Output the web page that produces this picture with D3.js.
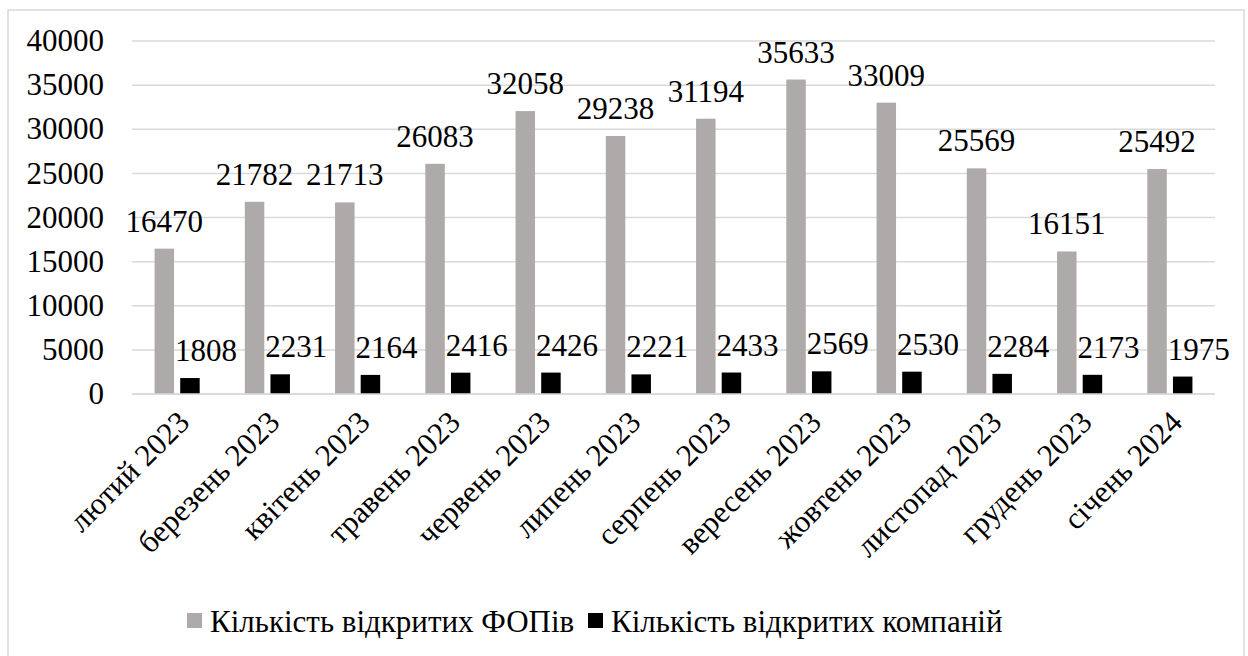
<!DOCTYPE html>
<html>
<head>
<meta charset="utf-8">
<script src="https://cdn.jsdelivr.net/npm/d3@7"></script>
<style>
    body { margin: 0; background: #fff; }
</style>
</head>
<body>
<div id="vis"></div>
<script>
// Months on the x axis
var months = ['лютий 2023', 'березень 2023', 'квітень 2023', 'травень 2023', 'червень 2023', 'липень 2023',
    'серпень 2023', 'вересень 2023', 'жовтень 2023', 'листопад 2023', 'грудень 2023', 'січень 2024'];

// Series names
var seriesNames = ['Кількість відкритих ФОПів', 'Кількість відкритих компаній'];

// Values per series
var fopValues = [16470, 21782, 21713, 26083, 32058, 29238, 31194, 35633, 33009, 25569, 16151, 25492];
var companyValues = [1808, 2231, 2164, 2416, 2426, 2221, 2433, 2569, 2530, 2284, 2173, 1975];

// Y tick values
var yTicks = [0, 5000, 10000, 15000, 20000, 25000, 30000, 35000, 40000];

(function () {
    var W = 1248;
    var H = 656;
    var margin = { left: 132, right: 33, top: 41, bottom: 262 };
    var drawWidth = W - margin.left - margin.right;
    var drawHeight = H - margin.top - margin.bottom;

    var colors = ['#aeaaaa', '#000000'];
    var fam = '"Times New Roman", "Liberation Serif", Tinos, serif';
    var size = '31px';

    var svg = d3.select('#vis')
        .append('svg')
        .attr('width', W)
        .attr('height', H)
        .style('font-family', fam);

    // chart border
    svg.append('rect')
        .attr('x', 8)
        .attr('y', 10)
        .attr('width', 1236)
        .attr('height', 660)
        .attr('fill', '#fff')
        .attr('stroke', '#d9d9d9')
        .attr('stroke-width', 1.5);

    var g = svg.append('g')
        .attr('transform', 'translate(' + margin.left + ',' + margin.top + ')');

    var xScale = d3.scaleBand()
        .domain(months)
        .range([0, drawWidth]);

    var xInner = d3.scaleBand()
        .domain(seriesNames)
        .range([xScale.bandwidth() * 0.25, xScale.bandwidth() * 0.75])
        .paddingInner(0.24);

    var yScale = d3.scaleLinear()
        .domain([0, 40000])
        .range([drawHeight, 0]);

    // gridlines
    g.selectAll('.grid')
        .data(yTicks)
        .enter().append('line')
        .attr('class', 'grid')
        .attr('x1', 0)
        .attr('x2', drawWidth)
        .attr('y1', function (d) { return yScale(d); })
        .attr('y2', function (d) { return yScale(d); })
        .attr('stroke', '#d9d9d9')
        .attr('stroke-width', 1.5);

    // y tick labels
    g.selectAll('.ytick')
        .data(yTicks)
        .enter().append('text')
        .attr('class', 'ytick')
        .attr('x', -28)
        .attr('y', function (d) { return yScale(d); })
        .attr('dy', '0.33em')
        .attr('text-anchor', 'end')
        .style('font-family', fam)
        .style('font-size', size)
        .text(function (d) { return d; });

    // x tick labels, rotated
    var xLabels = g.selectAll('.xtick')
        .data(months)
        .enter().append('g')
        .attr('class', 'xtick')
        .attr('transform', function (d) {
            return 'translate(' + (xScale(d) + xScale.bandwidth() / 2 + 14) + ',' + (drawHeight + 30) + ') rotate(-45)';
        });

    xLabels.append('text')
        .attr('text-anchor', 'end')
        .style('font-family', fam)
        .style('font-size', size)
        .text(function (d) { return d; });

    // bars + data labels
    [fopValues, companyValues].forEach(function (vals, s) {
        var rows = vals.map(function (v, i) { return { month: months[i], value: v }; });

        g.selectAll('.bar-' + s)
            .data(rows)
            .enter().append('rect')
            .attr('class', 'bar-' + s)
            .attr('x', function (d) { return xScale(d.month) + xInner(seriesNames[s]); })
            .attr('width', xInner.bandwidth())
            .attr('y', function (d) { return yScale(d.value); })
            .attr('height', function (d) { return drawHeight - yScale(d.value); })
            .attr('fill', colors[s]);

        // the black series labels sit a bit to the right of their bars
        g.selectAll('.label-' + s)
            .data(rows)
            .enter().append('text')
            .attr('class', 'label-' + s)
            .attr('x', function (d) {
                return xScale(d.month) + xInner(seriesNames[s]) + xInner.bandwidth() / 2 + (s === 1 ? 16 : 0);
            })
            .attr('y', function (d) { return yScale(d.value) - 17; })
            .attr('text-anchor', 'middle')
            .style('font-family', fam)
            .style('font-size', size)
            .text(function (d) { return d.value; });
    });

    // baseline
    g.append('line')
        .attr('x1', 0)
        .attr('x2', drawWidth)
        .attr('y1', drawHeight)
        .attr('y2', drawHeight)
        .attr('stroke', '#d9d9d9')
        .attr('stroke-width', 1.5);

    // legend
    var legendPos = [187, 588];
    var legend = svg.selectAll('.legend')
        .data(seriesNames)
        .enter().append('g')
        .attr('class', 'legend')
        .attr('transform', function (d, i) { return 'translate(' + legendPos[i] + ',613)'; });

    legend.append('rect')
        .attr('width', 15)
        .attr('height', 15)
        .attr('fill', function (d, i) { return colors[i]; });

    legend.append('text')
        .attr('x', 23)
        .attr('y', 19)
        .style('font-family', fam)
        .style('font-size', size)
        .text(function (d) { return d; });
})();
</script>
</body>
</html>
